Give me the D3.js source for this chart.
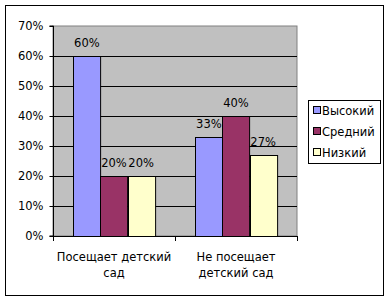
<!DOCTYPE html>
<html>
<head>
<meta charset="UTF-8">
<script src="https://cdn.jsdelivr.net/npm/d3@7"></script>
<style>
  body { margin: 0; background: white; }
  text { font-family: "DejaVu Sans", sans-serif; font-size: 11.5px; fill: black; }
</style>
</head>
<body>
<div id="chart"></div>
<script>
const categories = [["Посещает детский", "сад"], ["Не посещает", "детский сад"]];
const seriesNames = ["Высокий", "Средний", "Низкий"];
const seriesColors = ["#9999FF", "#993366", "#FFFFCC"];
const values = [
  [60, 20, 20],
  [33, 40, 27]
];
const yTicks = [0, 10, 20, 30, 40, 50, 60, 70];

const width = 390, height = 299;
const plot = { left: 53, top: 26, right: 297, bottom: 236 };

const svg = d3.select("#chart").append("svg")
  .attr("width", width)
  .attr("height", height);

// outer frame
svg.append("rect")
  .attr("x", 5.5).attr("y", 5.5)
  .attr("width", 378).attr("height", 290)
  .attr("fill", "white").attr("stroke", "black");

const x0 = d3.scaleBand()
  .domain(d3.range(categories.length))
  .range([plot.left, plot.right]);

const x1 = d3.scaleBand()
  .domain(d3.range(seriesNames.length))
  .range([0, x0.bandwidth()])
  .paddingOuter(0.75);

const y = d3.scaleLinear().domain([0, 70]).range([plot.bottom, plot.top]);

// plot background
svg.append("rect")
  .attr("x", plot.left).attr("y", plot.top)
  .attr("width", plot.right - plot.left).attr("height", plot.bottom - plot.top)
  .attr("fill", "#C0C0C0")
  .attr("stroke", "#808080");

// gridlines
svg.append("g").selectAll("line")
  .data(yTicks.filter(t => t > 0 && t < 70))
  .join("line")
  .attr("x1", plot.left).attr("x2", plot.right)
  .attr("y1", d => Math.round(y(d)) + 0.5).attr("y2", d => Math.round(y(d)) + 0.5)
  .attr("stroke", "black");

// bars
const groups = svg.append("g").selectAll("g")
  .data(values)
  .join("g")
  .attr("transform", (d, i) => `translate(${x0(i)},0)`);

groups.selectAll("rect")
  .data(d => d)
  .join("rect")
  .attr("x", (d, j) => Math.round(x1(j)) + 0.5)
  .attr("y", d => Math.round(y(d)) + 0.5)
  .attr("width", x1.bandwidth())
  .attr("height", d => plot.bottom - Math.round(y(d)))
  .attr("fill", (d, j) => seriesColors[j])
  .attr("stroke", "black");

groups.selectAll("text")
  .data(d => d)
  .join("text")
  .attr("x", (d, j) => x1(j) + x1.bandwidth() / 2)
  .attr("y", d => y(d) - 9)
  .attr("text-anchor", "middle")
  .text(d => d + "%");

// y axis
const yAxis = svg.append("g")
  .attr("transform", `translate(${plot.left + 0.5},0)`)
  .call(d3.axisLeft(y).tickValues(yTicks).tickSize(4).tickFormat(d => d + "%"));
yAxis.select(".domain").attr("d", `M-4,${plot.top}H0V${plot.bottom}H-4`);
yAxis.selectAll("text").attr("font-size", null).attr("font-family", null).attr("x", -10);

// x axis
svg.append("line")
  .attr("x1", plot.left).attr("x2", plot.right + 1)
  .attr("y1", plot.bottom + 0.5).attr("y2", plot.bottom + 0.5)
  .attr("stroke", "black");
svg.append("g").selectAll("line")
  .data(d3.range(categories.length + 1))
  .join("line")
  .attr("x1", i => Math.round(plot.left + i * x0.bandwidth()) + 0.5)
  .attr("x2", i => Math.round(plot.left + i * x0.bandwidth()) + 0.5)
  .attr("y1", plot.bottom).attr("y2", plot.bottom + 5)
  .attr("stroke", "black");

svg.append("g").selectAll("text")
  .data(categories)
  .join("text")
  .attr("x", (d, i) => x0(i) + x0.bandwidth() / 2)
  .attr("y", 261)
  .attr("text-anchor", "middle")
  .selectAll("tspan")
  .data(d => d)
  .join("tspan")
  .attr("x", function () { return d3.select(this.parentNode).attr("x"); })
  .attr("dy", (d, i) => i === 0 ? 0 : 16)
  .text(d => d);

// legend
const legend = svg.append("g");
legend.append("rect")
  .attr("x", 308.5).attr("y", 100.5)
  .attr("width", 72).attr("height", 63)
  .attr("fill", "white").attr("stroke", "black");
const items = legend.selectAll("g")
  .data(seriesNames)
  .join("g")
  .attr("transform", (d, i) => `translate(313,${110 + i * 21})`);
items.append("rect")
  .attr("x", 0.5).attr("y", -3.5)
  .attr("width", 7).attr("height", 7)
  .attr("fill", (d, i) => seriesColors[i])
  .attr("stroke", "black");
items.append("text")
  .attr("x", 9).attr("y", 4.5)
  .text(d => d);
</script>
</body>
</html>
